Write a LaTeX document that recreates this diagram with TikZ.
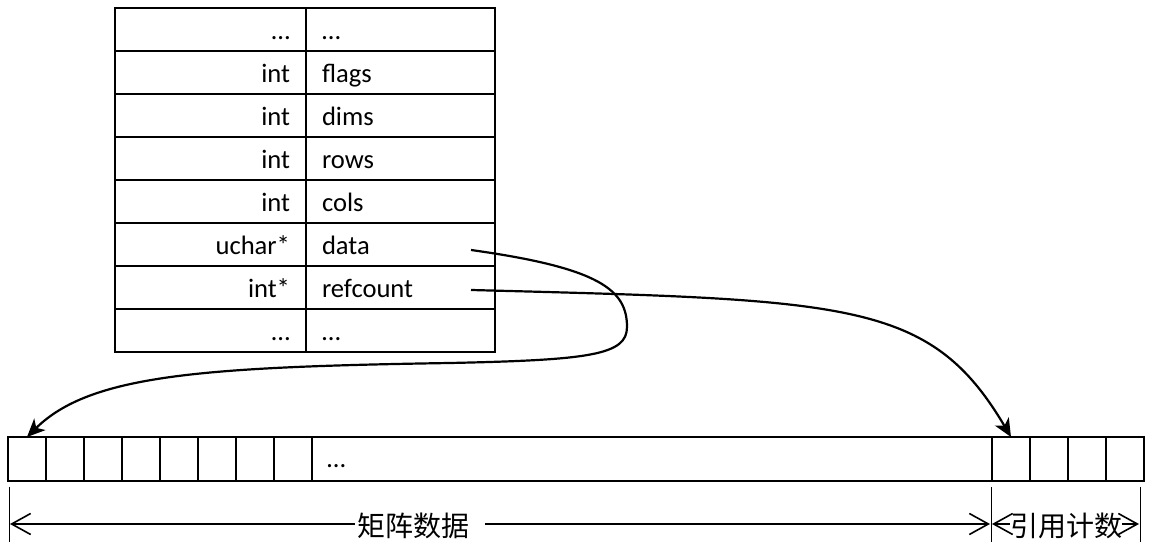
\documentclass[tikz,border=0pt]{standalone}
\usepackage{fontspec}
\setmainfont{Carlito}
\newfontfamily\cjk{Noto Sans CJK SC}
\usetikzlibrary{arrows.meta, positioning}

\begin{document}
\begin{tikzpicture}[
        x=0.5pt, y=-0.5pt,
        font=\fontsize{13.3}{16}\selectfont,
        cell/.style={draw, line width=1pt, inner ysep=0pt, outer sep=0pt, minimum height=21.5pt, text height=10pt, text depth=0pt},
        tycell/.style={cell, text width=79.5pt, inner xsep=8pt, align=right},
        fdcell/.style={cell, text width=78.5pt, inner xsep=8pt, align=left},
        slot/.style={draw, line width=1pt, minimum width=19pt, minimum height=22pt, inner sep=0pt, outer sep=0pt},
        span/.style={font=\cjk\fontsize{14}{16}\selectfont, inner ysep=0pt},
        dim/.style={line width=0.8pt, -{Straight Barb[length=9.5pt, width=10.5pt]}},
        ptr/.style={line width=1.1pt, -{Stealth[length=9pt, width=8pt, inset=2.5pt]}}
    ]
        \useasboundingbox (0,0) rectangle (1152,544);

        \foreach \t/\n [count=\i] in {…/…, int/flags, int/dims, int/rows, int/cols, uchar*/data, int*/refcount, …/…} {
            \node[tycell, anchor=north west] (ty\i) at (115,{8+43*(\i-1)}) {\t};
            \node[fdcell, right=0pt of ty\i] (fd\i) {\n};
        }

        \foreach \i in {1,...,8}
            \node[slot, anchor=north west] (a\i) at ({8+38*(\i-1)},437) {};
        \node[slot, right=0pt of a8, text width=325pt, inner xsep=7.5pt, align=left, text height=9pt, text depth=0pt] (rest) {…};
        \foreach \i in {1,...,4}
            \node[slot, anchor=north west] (r\i) at ({992+38*(\i-1)},437) {};

        \coordinate (dptr) at (471,250);
        \coordinate (rptr) at (471,290);
        \draw[ptr] (dptr) .. controls (600,268) and (627,290) .. (627,327)
            .. controls (627,355) and (590,360) .. (450,363)
            .. controls (200,367) and (90,375) .. (a1.north);
        \draw[ptr] (rptr) .. controls (850,300) and (930,300) .. (r1.north);

        \foreach \x in {9,991,1140}
            \draw[line width=0.5pt] (\x,487) -- (\x,542);
        \coordinate (d0) at (10,524);
        \coordinate (d1) at (990,524);
        \coordinate (d2) at (992,524);
        \coordinate (d3) at (1139,524);
        \node[span, inner xsep=1pt] (lbl1) at (413,526) {矩阵数据};
        \node[span, inner xsep=0pt] (lbl2) at (1066,526) {引用计数};
        \draw[dim] (lbl1.west |- d0) -- (d0);
        \draw[dim] ([xshift=7pt]lbl1.east |- d1) -- (d1);
        \draw[dim] (lbl2.west |- d2) -- (d2);
        \draw[dim] (lbl2.east |- d3) -- (d3);
    \end{tikzpicture}
\end{document}
